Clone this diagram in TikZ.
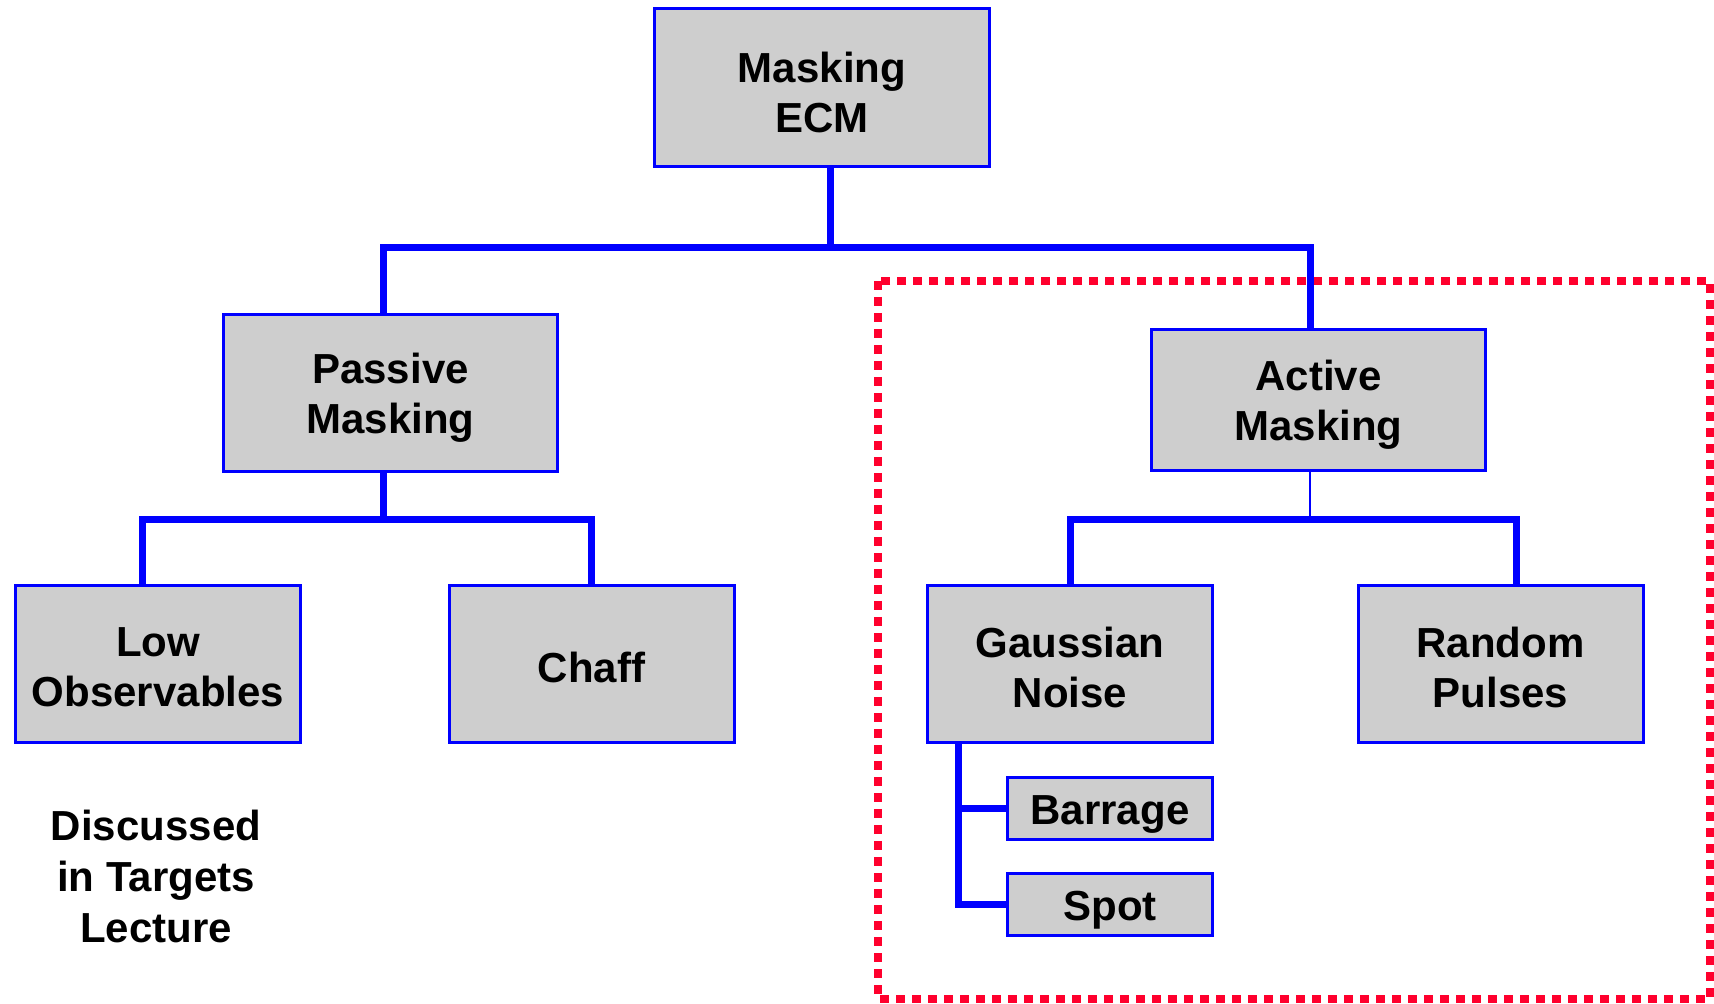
\documentclass[tikz,border=0pt]{standalone}
\usepackage{fontspec}
\setmainfont{Liberation Sans}
\definecolor{boxblue}{RGB}{0,0,255}
\definecolor{boxgray}{RGB}{206,206,206}
\definecolor{framered}{RGB}{255,0,45}
\begin{document}
\begin{tikzpicture}[x=0.5pt,y=-0.5pt,
  box/.style={draw=boxblue, fill=boxgray, line width=1.5pt, inner sep=0pt},
  bigbox/.style={box, minimum width=167pt, minimum height=78.5pt},
  leafbox/.style={box, minimum width=142.5pt, minimum height=78.5pt},
  smallbox/.style={box, minimum width=102.5pt, minimum height=31pt},
  boxtext/.style={inner sep=0pt, align=center, font=\fontsize{21}{25}\selectfont\bfseries},
  bus/.style={draw=boxblue, line width=3.5pt},
  thinbus/.style={draw=boxblue, line width=1.3pt},
  note/.style={align=center, font=\fontsize{21}{25.5}\selectfont\bfseries},
  groupframe/.style={draw=framered, line width=4pt, dash pattern=on 4.5pt off 3.5pt}
]
\useasboundingbox (0,0) rectangle (1714,1004);

% active-masking group frame
\draw[groupframe] (878,281) rectangle (1710,999);

% boxes
\node[bigbox, minimum width=167.5pt, minimum height=79pt] (ecm) at (822,87.5) {};
\node[bigbox] (pm) at (390.5,393) {};
\node[bigbox, minimum height=70.5pt] (am) at (1318.5,400) {};
\node[leafbox] (lo) at (158,664) {};
\node[leafbox] (ch) at (591.5,664) {};
\node[leafbox] (gn) at (1070,664) {};
\node[leafbox] (rp) at (1500.5,664) {};
\node[smallbox] (ba) at (1110,808.5) {};
\node[smallbox] (sp) at (1110,904.5) {};

% box captions, set a little below the box centres
\node[boxtext] (ecm-t) at ([yshift=-2.4pt]ecm.center) {Masking\\ECM};
\node[boxtext] (pm-t) at ([yshift=-2.6pt]pm.center) {Passive\\Masking};
\node[boxtext] (am-t) at ([yshift=-2.6pt]am.center) {Active\\Masking};
\node[boxtext] (lo-t) at ([yshift=-1.6pt]lo.center) {Low\\Observables};
\node[boxtext] (ch-t) at ([yshift=-1.6pt]ch.center) {Chaff};
\node[boxtext] (gn-t) at ([yshift=-1.6pt]gn.center) {Gaussian\\Noise};
\node[boxtext] (rp-t) at ([yshift=-1.6pt]rp.center) {Random\\Pulses};
\node[boxtext] (ba-t) at ([yshift=-2.8pt]ba.center) {Barrage};
\node[boxtext] (sp-t) at ([yshift=-2.8pt]sp.center) {Spot};

\node[note] (disc) at (156,876) {Discussed\\in Targets\\Lecture};

% junction points of the buses
\coordinate (jE) at (830,248);
\coordinate (jL) at (383,248);
\coordinate (jR) at (1310,248);
\coordinate (pL) at (142,520);
\coordinate (pM) at (383,520);
\coordinate (pR) at (591,520);
\coordinate (aL) at (1070,520);
\coordinate (aM) at (1310,520);
\coordinate (aR) at (1516,520);
\coordinate (gx) at (958,744);

% top level
\draw[bus] (ecm.south -| jE) -- (jE);
\draw[bus] (pm.north -| jL) -- (jL) -- (jR) -- (am.north -| jR);

% passive branch
\draw[bus] (pm.south -| pM) -- (pM);
\draw[bus] (lo.north -| pL) -- (pL) -- (pR) -- (ch.north -| pR);

% active branch
\draw[thinbus] (am.south -| aM) -- (aM);
\draw[bus] (gn.north -| aL) -- (aL) -- (aR) -- (rp.north -| aR);

% gaussian noise sub-types
\draw[bus] (gn.south -| gx) |- (sp.west);
\draw[bus] (ba.west -| gx) -- (ba.west);
\end{tikzpicture}
\end{document}
